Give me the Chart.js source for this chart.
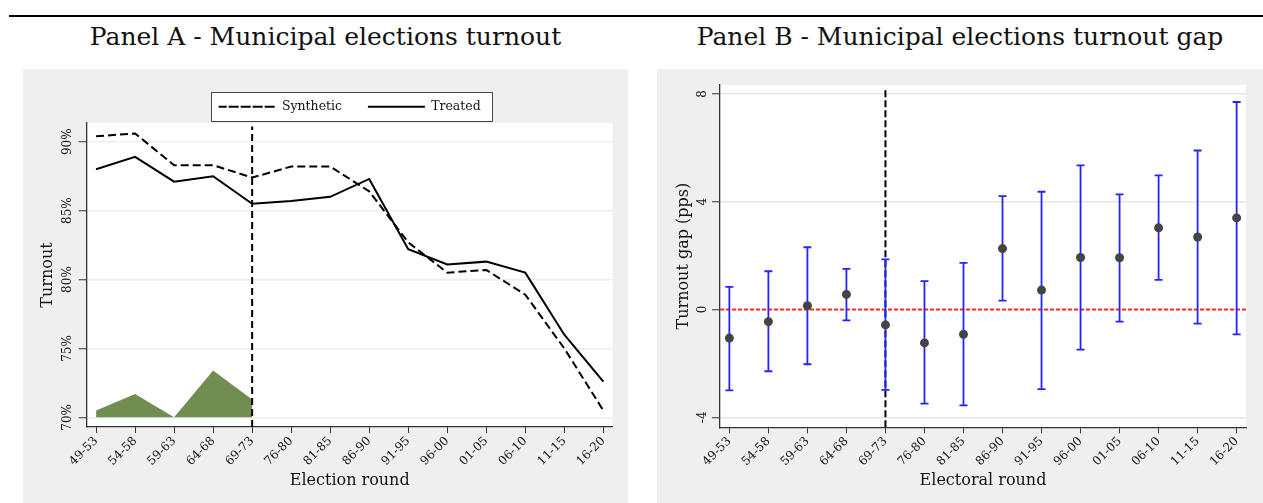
<!DOCTYPE html>
<html>
<head>
<meta charset="utf-8">
<script src="https://cdn.jsdelivr.net/npm/chart.js@4/dist/chart.umd.min.js"></script>
<style>
  html, body { margin:0; padding:0; background:#fff; width:1263px; height:503px; overflow:hidden; }
  #rule { position:absolute; left:9px; top:15px; width:1254px; height:2px; background:#000; }
  .title { position:absolute; top:24px; height:30px; line-height:25px; font-family:"DejaVu Serif", serif; font-size:25px; color:#111; text-align:center; white-space:nowrap; }
  .panel { position:absolute; top:69px; height:434px; background:#efefef; }
  canvas { display:block; }
</style>
</head>
<body>
<div id="rule"></div>
<div class="title" style="left:23px;width:605px;">Panel A - Municipal elections turnout</div>
<div class="title" style="left:657px;width:606px;">Panel B - Municipal elections turnout gap</div>
<div class="panel" style="left:23px;width:605px;"><canvas id="chartA" width="605" height="434"></canvas></div>
<div class="panel" style="left:657px;width:606px;"><canvas id="chartB" width="606" height="434"></canvas></div>
<script>
// ---------- data ----------
const rounds = ['49-53','54-58','59-63','64-68','69-73','76-80','81-85','86-90','91-95','96-00','01-05','06-10','11-15','16-20'];
const synthetic = [90.4, 90.6, 88.3, 88.3, 87.4, 88.2, 88.2, 86.4, 82.7, 80.5, 80.7, 78.9, 75.0, 70.5];
const treated   = [88.0, 88.9, 87.1, 87.5, 85.5, 85.7, 86.0, 87.3, 82.2, 81.1, 81.3, 80.5, 76.0, 72.6];
const preArea   = [70.5, 71.7, 70.0, 73.4, 71.3];
const gap    = [-1.06, -0.45, 0.14, 0.56, -0.57, -1.24, -0.92, 2.26, 0.72, 1.93, 1.92, 3.03, 2.69, 3.40];
const ciLow  = [-3.00, -2.29, -2.03, -0.40, -2.98, -3.49, -3.56, 0.33, -2.95, -1.49, -0.45, 1.10, -0.52, -0.92];
const ciHigh = [0.84, 1.42, 2.31, 1.51, 1.86, 1.05, 1.73, 4.21, 4.37, 5.35, 4.27, 4.98, 5.90, 7.70];
const yTicksA = [70, 75, 80, 85, 90];
const yTicksB = [-4, 0, 4, 8];
const treatmentRound = '69-73';
const areaBase = 70;

// ---------- styling / layout ----------
const FONT = '"DejaVu Serif", serif';
const INK = '#141414';
const xIdx = rounds.indexOf(treatmentRound);
const xMin = -0.24, xMax = rounds.length - 1 + 0.24;
const yRangeA = [69.3, 91.36], yRangeB = [-4.37, 8.33];
const cutTopA = 91.1, cutTopB = 8.17;

const panelBg = {
  id: 'panelBg',
  beforeDraw(chart) {
    const {ctx, chartArea: a} = chart;
    ctx.save();
    ctx.fillStyle = '#fff';
    ctx.fillRect(a.left, a.top, a.right - a.left, a.bottom - a.top);
    const lg = chart.legend;
    if (lg && lg.options.display && lg.legendHitBoxes && lg.legendHitBoxes.length) {
      const hb = lg.legendHitBoxes;
      const first = hb[0], last = hb[hb.length - 1];
      const cy = first.top + first.height / 2;
      const x0 = Math.round(first.left - 8), x1 = Math.round(last.left + last.width + 11);
      const y0 = Math.round(cy - 14.5);
      ctx.fillRect(x0, y0, x1 - x0, 29);
      ctx.strokeStyle = '#444';
      ctx.lineWidth = 1;
      ctx.strokeRect(x0 + 0.5, y0 + 0.5, x1 - x0, 29);
    }
    ctx.restore();
  }
};

function xScale() {
  return {
    type: 'linear', min: xMin, max: xMax,
    afterBuildTicks: s => { s.ticks = rounds.map((r, i) => ({value: i})); },
    afterFit: s => { s.height = 76; },
    ticks: { autoSkip: false, minRotation: 45, maxRotation: 45, padding: 1,
             color: INK, font: {family: FONT, size: 12},
             callback: v => rounds[v] },
    grid: { drawOnChartArea: false, drawTicks: true, tickLength: 6, tickColor: '#333', tickWidth: 1 },
    border: { display: true, color: '#333', width: 1.3 },
    title: { display: true, text: '', color: INK, font: {family: FONT, size: 16}, padding: {top: 0, bottom: 12.7} }
  };
}

// ---------- Panel A ----------
const xA = xScale();
xA.title.text = 'Election round';
new Chart(document.getElementById('chartA'), {
  type: 'scatter',
  data: {
    datasets: [
      { label: 'Synthetic', data: synthetic.map((v, i) => ({x: i, y: v})), showLine: true,
        borderColor: '#000', backgroundColor: 'transparent', borderWidth: 2, borderDash: [8, 4],
        pointRadius: 0, tension: 0, order: 1 },
      { label: 'Treated', data: treated.map((v, i) => ({x: i, y: v})), showLine: true,
        borderColor: '#000', backgroundColor: 'transparent', borderWidth: 2,
        pointRadius: 0, tension: 0, order: 0 },
      { label: 'cut', data: [{x: xIdx, y: yRangeA[0]}, {x: xIdx, y: cutTopA}], showLine: true,
        borderColor: '#000', borderWidth: 2, borderDash: [7, 4], pointRadius: 0, order: 2 },
      { label: 'area', data: preArea.map((v, i) => ({x: i, y: v})), showLine: true,
        borderWidth: 0, borderColor: 'rgba(0,0,0,0)', backgroundColor: '#718d52',
        fill: {value: areaBase}, pointRadius: 0, tension: 0, order: 3 }
    ]
  },
  options: {
    responsive: false, animation: false, devicePixelRatio: 1, events: [],
    layout: { padding: {left: 0, right: 15.3, top: 29.5, bottom: 0} },
    scales: {
      x: xA,
      y: {
        min: yRangeA[0], max: yRangeA[1],
        afterBuildTicks: s => { s.ticks = yTicksA.map(v => ({value: v})); },
        afterFit: s => { s.width = 63.7; },
        ticks: { minRotation: 90, maxRotation: 90, crossAlign: 'center', padding: -2.1,
                 color: INK, font: {family: FONT, size: 12}, callback: v => v + '%' },
        grid: { color: '#e8eff0', lineWidth: 1.5, tickLength: 8, tickColor: '#333', tickWidth: 1 },
        border: { display: true, color: '#333', width: 1.3 },
        title: { display: true, text: 'Turnout', color: INK, font: {family: FONT, size: 16}, padding: {top: 15.4, bottom: 0} }
      }
    },
    plugins: {
      tooltip: { enabled: false },
      legend: {
        display: true, position: 'top', fullSize: false,
        labels: {
          boxWidth: 57, boxHeight: 0, padding: 2, color: INK, font: {family: FONT, size: 12.5},
          generateLabels(chart) {
            const items = Chart.defaults.plugins.legend.labels.generateLabels(chart)
              .filter(it => it.datasetIndex < 2)
              .sort((a, b) => a.datasetIndex - b.datasetIndex);
            items[0].text += '\u00a0\u00a0\u00a0\u00a0\u00a0\u00a0';
            return items;
          }
        }
      }
    }
  },
  plugins: [panelBg]
});

// ---------- Panel B ----------
const ciData = [];
ciLow.forEach((lo, i) => { ciData.push({x: i, y: lo}, {x: i, y: ciHigh[i]}, {x: i, y: null}); });
const xB = xScale();
xB.title.text = 'Electoral round';
xB.afterFit = s => { s.height = 75.7; };
new Chart(document.getElementById('chartB'), {
  type: 'scatter',
  data: {
    datasets: [
      { label: 'Gap', data: gap.map((v, i) => ({x: i, y: v})), showLine: false,
        pointRadius: 4.5, pointBackgroundColor: '#444', pointBorderWidth: 0, order: 0 },
      { label: 'CI', data: ciData, showLine: true, spanGaps: false,
        borderColor: '#2424ff', borderWidth: 1.8,
        pointStyle: 'line', pointRadius: 4, pointBorderColor: '#2424ff', pointBorderWidth: 1.8, order: 1 },
      { label: 'cut', data: [{x: xIdx, y: yRangeB[0]}, {x: xIdx, y: cutTopB}], showLine: true,
        borderColor: '#000', borderWidth: 2, borderDash: [7, 3], pointRadius: 0, order: 2 },
      { label: 'zero', data: [{x: xMin, y: 0}, {x: xMax, y: 0}], showLine: true,
        borderColor: '#ff2a2a', borderWidth: 2, borderDash: [4, 2], pointRadius: 0, order: 3 }
    ]
  },
  options: {
    responsive: false, animation: false, devicePixelRatio: 1, events: [],
    layout: { padding: {left: 0, right: 17, top: 16, bottom: 0} },
    scales: {
      x: xB,
      y: {
        min: yRangeB[0], max: yRangeB[1],
        afterBuildTicks: s => { s.ticks = yTicksB.map(v => ({value: v})); },
        afterFit: s => { s.width = 63; },
        ticks: { minRotation: 90, maxRotation: 90, crossAlign: 'center', padding: 3.2,
                 color: INK, font: {family: FONT, size: 12}, callback: v => String(v) },
        grid: { color: '#e6e6e6', lineWidth: 1.5, tickLength: 8, tickColor: '#333', tickWidth: 1 },
        border: { display: true, color: '#333', width: 1.3 },
        title: { display: true, text: 'Turnout gap (pps)', color: INK, font: {family: FONT, size: 16}, padding: {top: 16.9, bottom: 0} }
      }
    },
    plugins: { tooltip: { enabled: false }, legend: { display: false } }
  },
  plugins: [panelBg]
});
</script>
</body>
</html>
